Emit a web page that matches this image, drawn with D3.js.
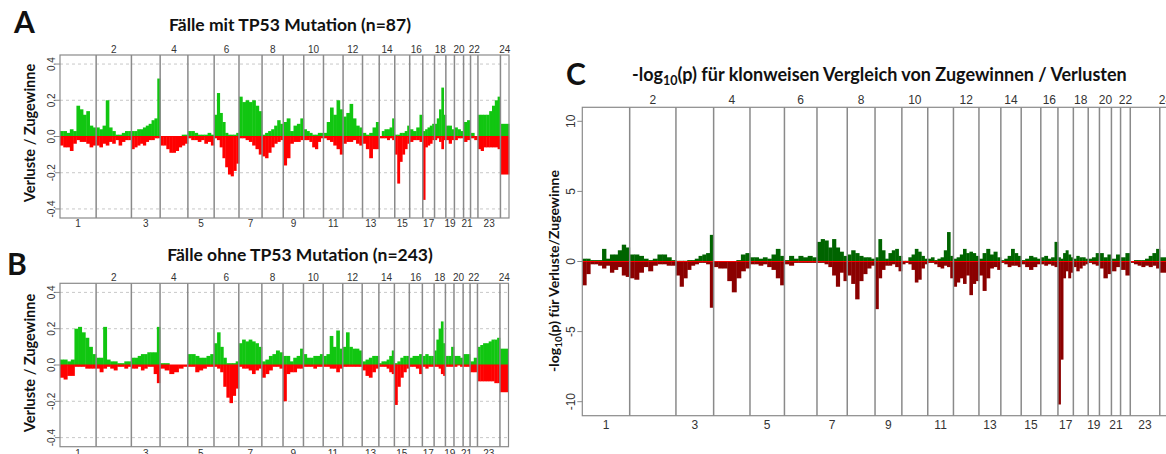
<!DOCTYPE html>
<html>
<head>
<meta charset="utf-8">
<script src="https://cdn.jsdelivr.net/npm/d3@7"></script>
<style>
  body { margin: 0; background: #fff; }
  svg { display: block; }
</style>
</head>
<body>
<svg id="fig" width="1166" height="454"></svg>
<script>
// chromosome lengths (Mb), 23 = X, 24 = Y
var chromLen = [249, 243, 198, 191, 181, 171, 159, 146, 141, 136, 135, 134,
                115, 107, 103, 90, 81, 78, 59, 63, 48, 51, 155, 59];
var chromLabels = ["1","2","3","4","5","6","7","8","9","10","11","12",
                   "13","14","15","16","17","18","19","20","21","22","23","24"];

var abTicks = [-0.4, -0.2, 0, 0.2, 0.4];
var abTickLabels = ["-0.4", "-0.2", "0.0", "0.2", "0.4"];
var abGrid = [-0.4, -0.2, 0.2, 0.4];
var cTicks = [-10, -5, 0, 5, 10];
var cTickLabels = ["-10", "-5", "0", "5", "10"];

// A: cases with TP53 mutation, fraction with gain / loss, per chromosome bins
var aGain = [
  [0.03,0.03,0.02,0.04,0.03,0.17,0.15,0.12,0.14,0.06,0.05],
  [0.05,0.04,0.06,0.2,0.05,0.03,0.01,0.01,0.02,0.03,0.03],
  [0.03,0.03,0.04,0.04,0.05,0.06,0.07,0.09,0.1,0.32],
  [0,0,0,0,0,0,0,0.01,0.01],
  [0.03,0.03,0.02,0.01,0.01,0.01,0.02,0.01],
  [0.12,0.24,0.13,0.08,0.02,0.01,0.01,0.01,0.02],
  [0.22,0.19,0.2,0.19,0.2,0.17,0.14],
  [0.01,0.02,0.03,0.04,0.06,0.09,0.07],
  [0.08,0.1,0.03,0.06,0.07,0.1],
  [0.04,0.03,0.02,0.01,0.01,0.02,0.02],
  [0.02,0.08,0.16,0.12,0.2,0.15],
  [0.11,0.13,0.18,0.1,0.06,0.05],
  [0.02,0.01,0.02,0.05,0.08],
  [0,0.03,0.04,0.04,0.05,0.1],
  [0.01,0.01,0.02,0.02,0.03,0.06],
  [0.04,0.03,0.05,0.12],
  [0.03,0.04,0.05,0.06,0.07],
  [0.07,0.1,0.15,0.27,0.12],
  [0.06,0.06,0.04],
  [0.05,0.04,0.03],
  [0.08,0.09],
  [0.02,0.0],
  [0.12,0.12,0.12,0.12,0.14,0.17,0.2,0.22],
  [0.07]
];
var aLoss = [
  [-0.05,-0.06,-0.06,-0.08,-0.04,-0.02,-0.03,-0.03,-0.04,-0.06,-0.05],
  [-0.05,-0.06,-0.04,-0.05,-0.03,-0.04,-0.02,-0.05,-0.03,-0.02,-0.02],
  [-0.07,-0.06,-0.05,-0.04,-0.05,-0.03,-0.02,-0.02,-0.01,-0.01],
  [-0.05,-0.05,-0.07,-0.09,-0.09,-0.08,-0.06,-0.05,-0.04],
  [-0.01,-0.02,-0.02,-0.03,-0.02,-0.04,-0.03,-0.05],
  [-0.01,-0.02,-0.06,-0.12,-0.17,-0.21,-0.22,-0.19,-0.15],
  [-0.01,-0.01,-0.02,-0.03,-0.05,-0.07,-0.1],
  [-0.11,-0.12,-0.09,-0.06,-0.04,-0.03,-0.02],
  [-0.16,-0.12,-0.04,-0.03,-0.03,-0.02],
  [-0.02,-0.02,-0.03,-0.06,-0.07,-0.03,-0.01],
  [-0.01,-0.02,-0.03,-0.05,-0.07,-0.1],
  [-0.04,-0.03,-0.03,-0.02,-0.04,-0.05],
  [-0.04,-0.07,-0.12,-0.07,-0.07],
  [-0.01,-0.01,-0.01,-0.02,-0.01,-0.02],
  [-0.1,-0.26,-0.14,-0.1,-0.07,-0.04],
  [-0.03,-0.02,-0.02,-0.03],
  [-0.35,-0.06,-0.05,-0.04,-0.02],
  [-0.02,-0.01,-0.03,-0.07,-0.02],
  [-0.02,-0.04,-0.02],
  [-0.02,-0.01,-0.01],
  [-0.03,-0.02],
  [-0.01,-0.02],
  [-0.07,-0.08,-0.06,-0.06,-0.06,-0.06,-0.06,-0.07],
  [-0.21]
];

// B: cases without TP53 mutation
var bGain = [
  [0.03,0.03,0.02,0.03,0.2,0.21,0.18,0.15,0.1,0.06],
  [0.04,0.04,0.21,0.03,0.02,0.02,0.01,0.01,0.02,0.02],
  [0.04,0.04,0.05,0.06,0.06,0.07,0.07,0.07,0.21],
  [0.01,0.01,0,0,0,0],
  [0.06,0.06,0.05,0.04,0.04,0.05,0.06],
  [0.12,0.18,0.1,0.04,0.01,0.01,0.01,0.02],
  [0.12,0.14,0.13,0.14,0.13,0.12,0.1],
  [0.02,0.03,0.05,0.06,0.08,0.07],
  [0.05,0.05,0.02,0.04,0.05,0.09],
  [0.06,0.04,0.04,0.05,0.05,0.06],
  [0.05,0.06,0.16,0.1,0.19,0.09],
  [0.1,0.18,0.1,0.09,0.09,0.08],
  [0.02,0.03,0.04,0.05,0.05],
  [0.01,0.02,0.02,0.03,0.05,0.08],
  [0.01,0.02,0.04,0.05,0.05],
  [0.04,0.05,0.05,0.06],
  [0.05,0.06,0.05,0.05],
  [0.08,0.14,0.2,0.24,0.12],
  [0.05,0.05,0.1],
  [0.05,0.05,0.04],
  [0.06,0.06],
  [0.02,0.04],
  [0.1,0.11,0.12,0.12,0.13,0.14,0.14,0.15],
  [0.09]
];
var bLoss = [
  [-0.07,-0.08,-0.06,-0.06,-0.01,-0.01,-0.01,-0.02,-0.02,-0.02],
  [-0.02,-0.04,-0.02,-0.01,-0.02,-0.03,-0.01,-0.01,-0.02,-0.01],
  [-0.02,-0.02,-0.01,-0.03,-0.02,-0.01,-0.01,-0.05,-0.1],
  [-0.02,-0.03,-0.05,-0.04,-0.02,-0.01],
  [-0.01,-0.01,-0.04,-0.03,-0.02,-0.01,-0.01],
  [-0.01,-0.02,-0.04,-0.12,-0.18,-0.21,-0.17,-0.13],
  [-0.01,-0.02,-0.02,-0.03,-0.05,-0.03,-0.02],
  [-0.07,-0.05,-0.03,-0.01,-0.01,-0.02],
  [-0.2,-0.05,-0.04,-0.04,-0.02,-0.02],
  [-0.01,-0.01,-0.01,-0.02,-0.01,-0.01],
  [-0.01,-0.01,-0.02,-0.02,-0.04,-0.02],
  [-0.01,-0.01,-0.01,-0.01,-0.01,-0.01],
  [-0.03,-0.06,-0.07,-0.04,-0.02],
  [-0.01,-0.01,-0.01,-0.02,-0.04,-0.05],
  [-0.22,-0.12,-0.07,-0.04,-0.02],
  [-0.01,-0.01,-0.02,-0.05],
  [-0.01,-0.02,-0.01,-0.01],
  [-0.01,-0.01,-0.02,-0.05,-0.06],
  [-0.01,-0.01,-0.01],
  [-0.01,0,-0.01],
  [-0.01,-0.01],
  [-0.04,-0.04],
  [-0.09,-0.09,-0.09,-0.09,-0.09,-0.09,-0.1,-0.1],
  [-0.15]
];

// C: -log10(p), comparison of gains (up) / losses (down)
var cGain = [
  [0.2,0.2,0.1,0.1,0.1,0.9,0.2,0.5,0.5,0.8,1.2,1.0],
  [0.5,0.5,0.4,0.2,0.1,0.2,0.5,0.5,0.3,0.1],
  [0.05,0.05,0.05,0.1,0.1,0.2,0.4,0.5,0.6,1.9],
  [0,0,0,0,0,0.1,0.5,0.6],
  [0.3,0.3,0.2,0.3,0.2,0.5,0.9,0.4],
  [0.1,0.4,0.2,0.4,0.3,0.4,0.3],
  [1.4,1.6,1.5,1.0,1.6,1.0,0.7,0.4],
  [0.5,0.8,0.6,0.4,0.3,0.3,0.2],
  [0.3,1.6,0.8,0.2,0.6,0.8,0.9,0.4],
  [0.05,0.05,0.3,0.5,0.9,0.7,0.4,0.2],
  [0.2,0.3,0.1,0.2,0.3,0.8,2.1,0.4],
  [0.2,0.3,0.5,0.9,0.6,0.7,0.6,0.4],
  [0.2,0.6,0.9,0.5,0.7,0.3],
  [0.1,0.2,0.4,0.9,0.6,0.4],
  [0.1,0.2,0.4,0.3,0.2],
  [0.3,0.4,0.2,0.3,1.4],
  [0.3,0.2,0.6,0.8,0.5,0.3],
  [0.2,0.4,0.3,0.3,0.2],
  [0.2,0.3,0.6],
  [0.6,0.3,0.5],
  [0.2,0.5],
  [0.3,0.6],
  [0.0,0.1,0.1,0.1,0.2,0.4,0.6,0.9],
  [0.3]
];
var cLoss = [
  [-1.7,-0.9,-0.2,-0.2,-0.3,-0.5,-0.3,-0.8,-0.6,-0.4,-1.0,-1.1],
  [-1.2,-1.3,-0.8,-0.4,-0.7,-0.3,-0.2,-0.2,-0.3,-0.3],
  [-1.0,-1.8,-1.2,-0.6,-0.3,-0.2,-0.1,-0.1,-0.2,-3.3],
  [-0.4,-0.5,-0.5,-1.4,-2.2,-1.2,-0.7,-0.5],
  [-0.2,-0.2,-0.3,-0.2,-0.4,-0.6,-1.2,-1.7],
  [-0.2,-0.3,-0.1,-0.1,-0.1,-0.1,-0.1],
  [-0.1,-0.1,-0.2,-0.4,-1.0,-1.8,-0.8,-1.4],
  [-1.0,-1.6,-2.7,-1.4,-0.9,-0.5,-0.3],
  [-3.4,-1.2,-0.6,-0.3,-0.3,-0.2,-0.4,-0.7],
  [-0.2,-0.1,-0.2,-0.6,-1.5,-1.3,-0.5,-0.2],
  [-0.1,-0.1,-0.2,-0.4,-0.5,-0.3,-0.4,-1.2],
  [-1.8,-1.5,-1.2,-1.6,-1.0,-2.4,-1.6,-1.4],
  [-1.0,-2.1,-1.2,-0.5,-0.4,-0.6],
  [-0.1,-0.2,-0.4,-0.3,-0.3,-0.4],
  [-0.2,-0.4,-0.6,-0.4,-0.2],
  [-0.2,-0.3,-0.2,-0.3,-0.4],
  [-10.2,-7.0,-1.2,-0.7,-1.2,-0.8],
  [-0.4,-0.7,-0.5,-0.3,-0.2],
  [-0.1,-0.2,-0.3],
  [-0.5,-1.2,-0.9],
  [-0.7,-0.4],
  [-0.6,-1.0],
  [-0.1,-0.2,-0.3,-0.4,-0.3,-0.4,-0.3,-0.5],
  [-0.8]
];

var svg = d3.select("#fig");
var starts = [0].concat(Array.from(d3.cumsum(chromLen)));
var genomeLen = starts[starts.length - 1];
var axisFont = "'Liberation Sans', Arial, sans-serif";
var titleFont = "Lato, 'Open Sans', sans-serif";

function drawPanel(cfg) {
  var g = svg.append("g");
  var x = d3.scaleLinear().domain([0, genomeLen]).range([cfg.left, cfg.right]);
  var y = d3.scaleLinear().domain(cfg.domain).range([cfg.bottom, cfg.top]);

  // dashed grid
  g.selectAll(".grid")
    .data(cfg.grid)
    .enter().append("line")
      .attr("x1", cfg.left).attr("x2", cfg.right)
      .attr("y1", d => y(d)).attr("y2", d => y(d))
      .attr("stroke", "#c8c8c8")
      .attr("stroke-dasharray", "3,3");

  // bins -> rects
  function bins(series) {
    var out = [];
    series.forEach((vals, i) => {
      var step = chromLen[i] / vals.length;
      vals.forEach((v, j) => out.push({ s: starts[i] + j * step, e: starts[i] + (j + 1) * step, v: v }));
    });
    return out;
  }
  [[cfg.gain, cfg.gainColor], [cfg.loss, cfg.lossColor]].forEach(pair => {
    g.append("g").selectAll("rect")
      .data(bins(pair[0]))
      .enter().append("rect")
        .attr("x", d => x(d.s))
        .attr("width", d => x(d.e) - x(d.s) + 0.4)
        .attr("y", d => y(Math.max(d.v, 0)))
        .attr("height", d => Math.abs(y(d.v) - y(0)))
        .attr("fill", pair[1]);
  });

  // zero line
  g.append("line")
    .attr("x1", cfg.left).attr("x2", cfg.right)
    .attr("y1", y(0)).attr("y2", y(0))
    .attr("stroke", "#ff0000").attr("stroke-width", 1.2);

  // chromosome borders
  g.selectAll(".chr")
    .data(starts.slice(1, -1))
    .enter().append("line")
      .attr("x1", d => x(d)).attr("x2", d => x(d))
      .attr("y1", cfg.top).attr("y2", cfg.bottom)
      .attr("stroke", "#8a8a8a").attr("stroke-width", 1.5);

  // frame
  g.append("rect")
    .attr("x", cfg.left).attr("y", cfg.top)
    .attr("width", cfg.right - cfg.left).attr("height", cfg.bottom - cfg.top)
    .attr("fill", "none").attr("stroke", "#8a8a8a").attr("stroke-width", 1.2);

  // chromosome labels, even on top and odd below
  g.selectAll(".clab")
    .data(chromLabels)
    .enter().append("text")
      .attr("x", (d, i) => x(starts[i] + chromLen[i] / 2))
      .attr("y", (d, i) => i % 2 ? cfg.topLabelY : cfg.bottomLabelY)
      .attr("text-anchor", "middle")
      .attr("font-family", axisFont)
      .attr("font-size", cfg.tickSize)
      .attr("fill", "#333")
      .text(d => d);

  // y axis ticks
  g.selectAll(".ytick")
    .data(cfg.ticks)
    .enter().append("line")
      .attr("x1", cfg.left - 5).attr("x2", cfg.left)
      .attr("y1", d => y(d)).attr("y2", d => y(d))
      .attr("stroke", "#8a8a8a");
  g.selectAll(".ylab")
    .data(cfg.ticks)
    .enter().append("text")
      .attr("transform", d => "translate(" + cfg.yLabelX + "," + y(d) + ") rotate(-90)")
      .attr("text-anchor", "middle")
      .attr("dy", "0.35em")
      .attr("font-family", axisFont)
      .attr("font-size", cfg.tickSize)
      .attr("fill", "#333")
      .text((d, i) => cfg.tickLabels[i]);
}

drawPanel({ left: 60, right: 509, top: 55, bottom: 218, domain: [-0.45, 0.45],
  gain: aGain, loss: aLoss, gainColor: "#11c611", lossColor: "#ff0000",
  grid: abGrid, ticks: abTicks, tickLabels: abTickLabels, tickSize: 10,
  topLabelY: 52.5, bottomLabelY: 227, yLabelX: 51 });

drawPanel({ left: 60, right: 508.5, top: 283.3, bottom: 446.7, domain: [-0.45, 0.45],
  gain: bGain, loss: bLoss, gainColor: "#11c611", lossColor: "#ff0000",
  grid: abGrid, ticks: abTicks, tickLabels: abTickLabels, tickSize: 10,
  topLabelY: 281, bottomLabelY: 456.5, yLabelX: 51 });

drawPanel({ left: 582.3, right: 1171, top: 107.3, bottom: 415.7, domain: [-11, 11],
  gain: cGain, loss: cLoss, gainColor: "#006400", lossColor: "#8b0000",
  grid: [], ticks: cTicks, tickLabels: cTickLabels, tickSize: 12,
  topLabelY: 103.5, bottomLabelY: 428.5, yLabelX: 571 });

// titles and panel letters
function label(txt, x, y, size) {
  return svg.append("text")
    .attr("x", x).attr("y", y)
    .attr("font-family", titleFont)
    .attr("font-weight", "bold")
    .attr("font-size", size)
    .attr("fill", "#111")
    .text(txt);
}
label("A", 14, 33, 30);
label("B", 7, 275, 30);
label("C", 566, 85, 30);
label("Fälle mit TP53 Mutation (n=87)", 290, 31, 17.5).attr("text-anchor", "middle");
label("Fälle ohne TP53 Mutation (n=243)", 300, 261, 17.5).attr("text-anchor", "middle");

var ct = label("-log", 632, 81, 18);
ct.append("tspan").attr("font-size", 12.5).attr("dy", 4).text("10");
ct.append("tspan").attr("dy", -4).text("(p) für klonweisen Vergleich von Zugewinnen / Verlusten");

[[30, 133], [30, 363]].forEach(p => {
  svg.append("text")
    .attr("transform", "translate(" + p[0] + "," + p[1] + ") rotate(-90)")
    .attr("text-anchor", "middle").attr("dy", "0.35em")
    .attr("font-family", titleFont).attr("font-weight", "bold")
    .attr("font-size", 14.5).attr("fill", "#111")
    .text("Verluste / Zugewinne");
});

var cy = svg.append("text")
  .attr("transform", "translate(554,271) rotate(-90)")
  .attr("text-anchor", "middle").attr("dy", "0.35em")
  .attr("font-family", titleFont).attr("font-weight", "bold")
  .attr("font-size", 14).attr("fill", "#111")
  .text("-log");
cy.append("tspan").attr("font-size", 10).attr("dy", 3).text("10");
cy.append("tspan").attr("dy", -3).text("(p) für Verluste/Zugewinne");
</script>
</body>
</html>
